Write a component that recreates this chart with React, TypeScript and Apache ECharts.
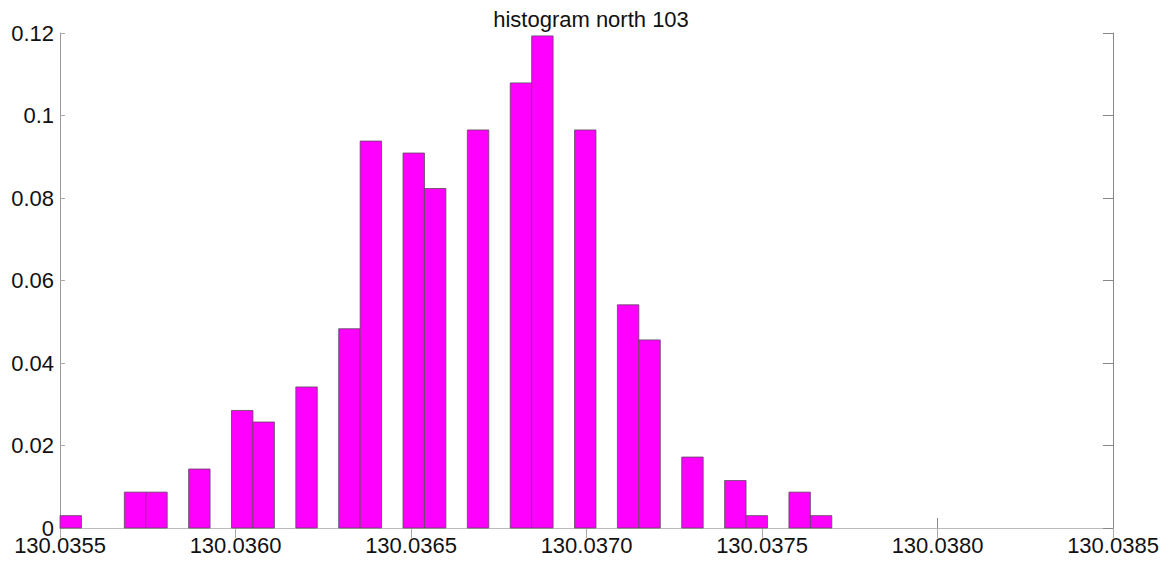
import React, { useEffect, useRef } from "react";
import * as echarts from "echarts";

const titleText = "histogram north 103";
const xMin = 130.0355;
const xMax = 130.0385;
const xInterval = 0.0005;
const yMax = 0.12;
const yInterval = 0.02;
const binStart = 130.0355;
const binWidth = 0.00006108;
const binValues = [
  0.003, 0, 0, 0.0087, 0.0087, 0, 0.0143, 0, 0.0285, 0.0257, 0, 0.0342, 0,
  0.0483, 0.0938, 0, 0.0909, 0.0823, 0, 0.0965, 0, 0.1079, 0.1193, 0, 0.0965,
  0, 0.0541, 0.0456, 0, 0.0172, 0, 0.0115, 0.003, 0, 0.0087, 0.003,
];

const FONT = "'Liberation Sans', Arial, Helvetica, sans-serif";

export default function App() {
  const ref = useRef<HTMLDivElement>(null);
  useEffect(() => {
    if (!ref.current) return;
    const chart = echarts.init(ref.current, undefined, { renderer: "svg" });
    const data = binValues
      .map((v, i) => [binStart + i * binWidth, binStart + (i + 1) * binWidth, v])
      .filter((d) => d[2] > 0);
    const axisLine = { show: true, lineStyle: { color: "#999", width: 1 } };
    chart.setOption({
      animation: false,
      backgroundColor: "#fff",
      textStyle: { fontFamily: FONT },
      title: {
        text: titleText,
        left: 586,
        textAlign: "center",
        top: 3,
        textStyle: { fontFamily: FONT, fontSize: 22, fontWeight: "normal", color: "#111" },
      },
      grid: { left: 60, right: 61, top: 33, bottom: 35, show: false },
      xAxis: [
        {
          type: "value",
          min: xMin,
          max: xMax,
          interval: xInterval,
          position: "bottom",
          axisLine,
          axisTick: { show: true, inside: true, length: 10, lineStyle: { color: "#888" } },
          axisLabel: {
            fontFamily: FONT,
            fontSize: 22,
            lineHeight: 16,
            color: "#111",
            margin: 9,
            formatter: (v: number) => v.toFixed(4),
          },
          splitLine: { show: false },
        },
        {
          type: "value",
          min: xMin,
          max: xMax,
          interval: xInterval,
          position: "top",
          axisLine: { show: true, lineStyle: { color: "#bbb", width: 1 } },
          axisTick: { show: true, inside: true, length: 10, lineStyle: { color: "#aaa" } },
          axisLabel: { show: false },
          splitLine: { show: false },
        },
      ],
      yAxis: [
        {
          type: "value",
          min: 0,
          max: yMax,
          interval: yInterval,
          position: "left",
          axisLine,
          axisTick: { show: true, inside: true, length: 5, lineStyle: { color: "#aaa" } },
          axisLabel: {
            fontFamily: FONT,
            fontSize: 22,
            lineHeight: 16,
            color: "#111",
            margin: 6,
            formatter: (v: number) => (v === 0 ? "0" : String(parseFloat(v.toFixed(2)))),
          },
          splitLine: { show: false },
        },
        {
          type: "value",
          min: 0,
          max: yMax,
          interval: yInterval,
          position: "right",
          axisLine: { show: true, lineStyle: { color: "#888", width: 1 } },
          axisTick: { show: true, inside: true, length: 10, lineStyle: { color: "#888" } },
          axisLabel: { show: false },
          splitLine: { show: false },
        },
      ],
      series: [
        {
          type: "custom",
          xAxisIndex: 0,
          yAxisIndex: 0,
          data,
          renderItem: (params: any, api: any) => {
            const p0 = api.coord([api.value(0), api.value(2)]);
            const p1 = api.coord([api.value(1), 0]);
            return {
              type: "rect",
              shape: { x: p0[0], y: p0[1], width: p1[0] - p0[0], height: p1[1] - p0[1] },
              style: { fill: "#ff00ff", stroke: "#5a4a5a", lineWidth: 0.8 },
            };
          },
          z: 1,
        },
      ],
    });
    return () => chart.dispose();
  }, []);
  return (
    <div
      ref={ref}
      style={{ position: "fixed", left: 0, top: 0, width: 1174, height: 563, background: "#fff" }}
    />
  );
}
